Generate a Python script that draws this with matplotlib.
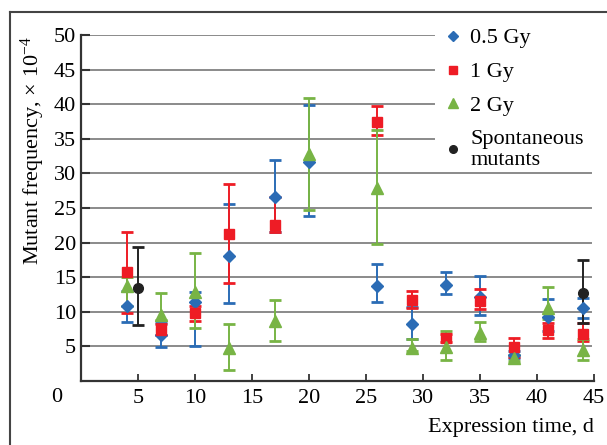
import matplotlib
matplotlib.use("Agg")
import matplotlib.pyplot as plt
from matplotlib.lines import Line2D
import numpy as np

plt.rcParams["font.family"] = ["Liberation Serif", "DejaVu Serif"]
plt.rcParams["mathtext.fontset"] = "stix"

# expression time, d
days = [4, 7, 10, 13, 17, 20, 26, 29, 32, 35, 38, 41, 44]

# 0.5 Gy: value, lower and upper end of error bar (x 10^-4)
gy05 = [10.8, 6.6, 11.4, 18.1, 26.6, 31.6, 13.7, 8.2, 13.9, 12.1, 3.8, 9.2, 10.5]
gy05_lo = [8.5, 4.9, 5.1, 11.3, 21.5, 23.8, 11.4, 6.1, 12.6, 9.5, 3.3, 7.2, 9.1]
gy05_hi = [13.0, 8.4, 12.8, 25.6, 32.0, 39.9, 16.9, 10.7, 15.8, 15.2, 4.3, 11.8, 12.0]

# 1 Gy
gy1 = [15.8, 7.4, 9.8, 21.2, 22.5, None, 37.4, 11.7, 6.2, 11.6, 4.9, 7.3, 6.8]
gy1_lo = [9.8, 6.6, 8.7, 14.2, 21.6, None, 35.5, 10.6, 5.6, 10.4, 3.5, 6.2, 5.8]
gy1_hi = [21.5, 8.2, 10.9, 28.5, 26.6, None, 39.7, 13.0, 6.8, 13.3, 6.2, 8.4, 8.4]

# 2 Gy
gy2 = [13.7, 9.5, 12.9, 4.8, 8.7, 32.8, 27.9, 4.8, 4.9, 6.9, 3.3, 10.5, 4.5]
gy2_lo = [10.8, 8.8, 7.7, 1.6, 5.8, 24.7, 19.8, 4.3, 3.0, 5.8, 2.9, 9.0, 3.0]
gy2_hi = [15.0, 12.7, 18.5, 8.2, 11.7, 40.9, 36.3, 6.1, 7.2, 8.5, 3.8, 13.6, 6.1]

# spontaneous mutants
spont_days = [5, 44]
spont = [13.4, 12.7]
spont_lo = [8.1, 8.4]
spont_hi = [19.4, 17.5]

x_ticks = [5, 10, 15, 20, 25, 30, 35, 40, 45]
y_ticks = [5, 10, 15, 20, 25, 30, 35, 40, 45, 50]

BLUE = "#2b6cb5"
RED = "#ee1c25"
GREEN = "#78b445"
BLACK = "#222222"


def draw_series(ax, xs, ys, lo, hi, color, marker, ms):
    pts = [(x, y, l, h) for x, y, l, h in zip(xs, ys, lo, hi) if y is not None]
    x = np.array([p[0] for p in pts], dtype=float)
    y = np.array([p[1] for p in pts], dtype=float)
    l = np.array([p[2] for p in pts], dtype=float)
    h = np.array([p[3] for p in pts], dtype=float)
    ax.errorbar(
        x, y, yerr=[y - l, h - y],
        fmt=marker, ms=ms, color=color, ecolor=color, mec=color,
        elinewidth=1.4, capsize=4.5, capthick=2.0, zorder=3,
    )


fig = plt.figure(figsize=(6.07, 4.45), dpi=100)
ax = fig.add_axes([81 / 607, 1 - 381 / 445, 513 / 607, 346 / 445])

for yv in y_ticks:
    xmax = 0.688 if yv > 30 else 0.995
    ax.axhline(yv, xmin=0, xmax=xmax, color="#8a8a8a", lw=1.4, zorder=1)

draw_series(ax, days, gy05, gy05_lo, gy05_hi, BLUE, "D", 6.5)
draw_series(ax, days, gy1, gy1_lo, gy1_hi, RED, "s", 7)
draw_series(ax, days, gy2, gy2_lo, gy2_hi, GREEN, "^", 8)
draw_series(ax, spont_days, spont, spont_lo, spont_hi, BLACK, "o", 7)

ax.set_xlim(0, 45)
ax.set_ylim(0, 50)
ax.set_xticks(x_ticks)
ax.set_yticks(y_ticks)
ax.tick_params(axis="y", direction="in", length=6.5, width=1.5, pad=3.5,
               labelsize=16, color="#333333")
ax.tick_params(axis="x", direction="in", length=5, width=1.3, pad=6,
               labelsize=16, color="#333333")
for side in ("top", "right"):
    ax.spines[side].set_visible(False)
for side in ("left", "bottom"):
    ax.spines[side].set_color("#333333")
    ax.spines[side].set_linewidth(1.6)

ax.annotate("0", xy=(0, 0), xytext=(-24, -16), textcoords="offset pixels",
            ha="center", va="center", fontsize=16)

ax.set_ylabel("Mutant frequency, × 10$\\mathregular{^{-4}}$", fontsize=16,
              va="center")
ax.yaxis.set_label_coords(-0.093, 0.665)
ax.set_xlabel("Expression time, d", fontsize=16, ha="right", va="center")
ax.xaxis.set_label_coords(1.0, -0.133)

handles = [
    Line2D([], [], ls="none", marker="D", ms=5.5, color=BLUE),
    Line2D([], [], ls="none", marker="s", ms=6, color=RED),
    Line2D([], [], ls="none", marker="^", ms=7, color=GREEN),
    Line2D([], [], ls="none", marker="o", ms=5.5, color=BLACK),
]
labels = ["0.5 Gy", "1 Gy", "2 Gy", "Spontaneous\nmutants"]
ax.legend(handles, labels, loc="upper left", bbox_to_anchor=(0.668, 1.072),
          frameon=False, fontsize=16, handlelength=1.0, handletextpad=0.3,
          labelspacing=0.6, borderpad=0.3)

# outer frame of the figure panel
fig.add_artist(Line2D([10 / 607, 1], [1 - 12 / 445, 1 - 12 / 445],
                      transform=fig.transFigure, color="#444444", lw=1.5))
fig.add_artist(Line2D([10 / 607, 10 / 607], [0, 1 - 12 / 445],
                      transform=fig.transFigure, color="#444444", lw=1.5))

fig.savefig("out.png", dpi=100)
